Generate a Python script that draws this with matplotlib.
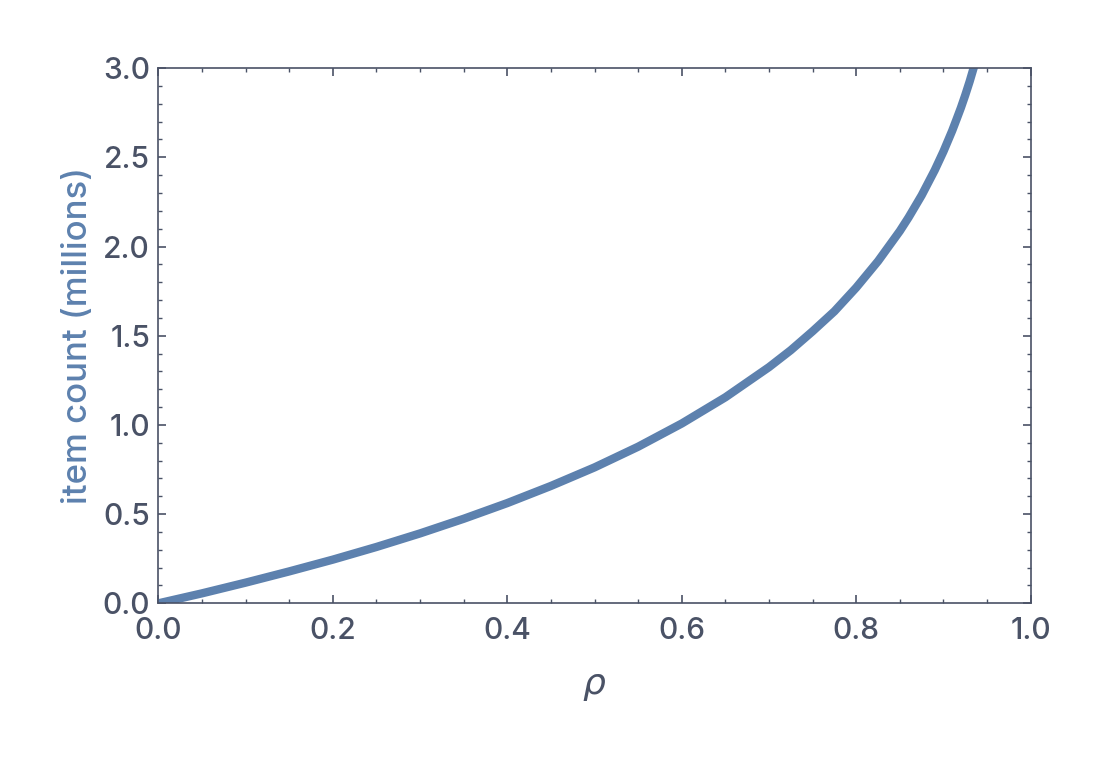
import matplotlib
matplotlib.use('Agg')
import matplotlib.pyplot as plt
from matplotlib.ticker import MultipleLocator

# values
rho = [0.0, 0.05, 0.1, 0.15, 0.2, 0.25, 0.3, 0.35, 0.4, 0.45, 0.5, 0.55,
       0.6, 0.65, 0.7, 0.725, 0.75, 0.775, 0.8, 0.825, 0.85, 0.86, 0.875,
       0.89, 0.9, 0.91, 0.915, 0.92, 0.925, 0.93, 0.935, 0.94]
count = [0.0, 0.056, 0.116, 0.179, 0.245, 0.316, 0.392, 0.474, 0.562,
         0.658, 0.762, 0.878, 1.008, 1.155, 1.324, 1.419, 1.525, 1.637,
         1.770, 1.918, 2.087, 2.163, 2.287, 2.428, 2.533, 2.649, 2.713,
         2.778, 2.849, 2.925, 3.008, 3.095]

line_col = '#5d81ae'
axis_col = '#4a5266'
text_col = '#4a5266'

plt.rcParams['font.family'] = ['Inter', 'DejaVu Sans']

fig = plt.figure(figsize=(11, 7.57), dpi=100)
ax = fig.add_axes([0.144, 0.203, 0.793, 0.707])

ax.plot(rho, count, color=line_col, lw=6, solid_capstyle='butt',
        solid_joinstyle='round')

ax.set_xlim(0, 1)
ax.set_ylim(0, 3)
ax.xaxis.set_major_locator(MultipleLocator(0.2))
ax.xaxis.set_minor_locator(MultipleLocator(0.05))
ax.yaxis.set_major_locator(MultipleLocator(0.5))
ax.yaxis.set_minor_locator(MultipleLocator(0.1))
ax.xaxis.set_major_formatter(lambda v, p: f'{v:.1f}')
ax.yaxis.set_major_formatter(lambda v, p: f'{v:.1f}')

for s in ax.spines.values():
    s.set_color(axis_col)
    s.set_linewidth(1.2)

ax.tick_params(which='both', direction='in', top=True, right=True,
               color=axis_col, labelcolor=text_col, labelsize=21.5)
ax.tick_params(which='major', length=5.5, width=1.2)
ax.tick_params(which='minor', length=3, width=1.0)
ax.tick_params(axis='x', which='major', pad=10)
ax.tick_params(axis='y', which='major', pad=6)
for lbl in ax.get_xticklabels() + ax.get_yticklabels():
    lbl.set_fontweight('medium')

ax.set_xlabel(r'$\rho$', fontsize=26, color=text_col, labelpad=18)
ax.set_ylabel('item count (millions)', fontsize=25, color=line_col,
              labelpad=6, fontweight='medium')

fig.savefig('out.png', dpi=100)
